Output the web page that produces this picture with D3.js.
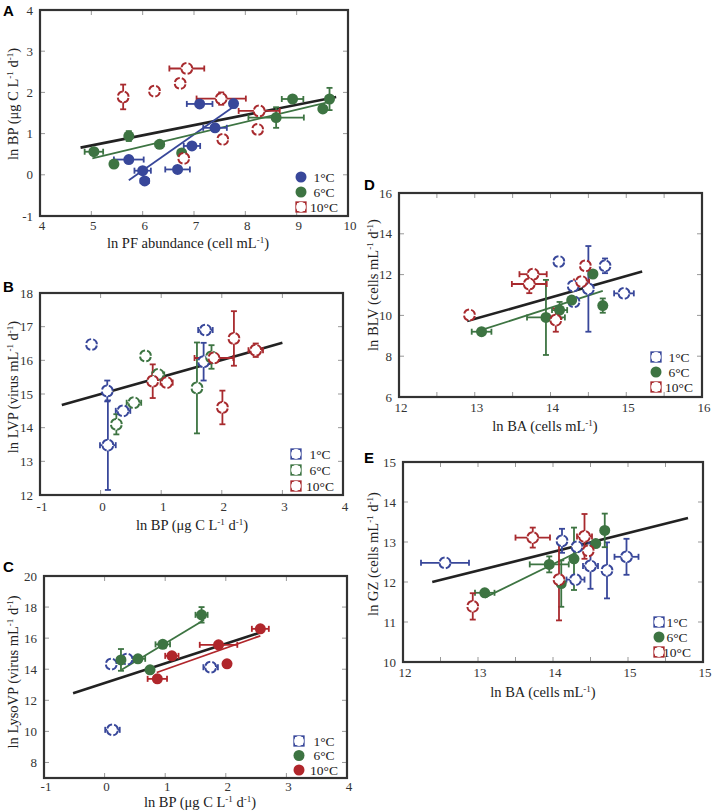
<!DOCTYPE html>
<html><head><meta charset="utf-8">
<script src="https://cdn.jsdelivr.net/npm/d3@7"></script>
<style>body{margin:0;background:#fff}svg{display:block}</style>
</head><body>
<script>
// ---------------- DATA ----------------
// each point: [x, y, xErr, yErr]
const A_1C = [[7.11,1.72,0.25,0],[7.77,1.73,0,0.1],[7.41,1.14,0.23,0],[6.96,0.70,0.16,0],[5.73,0.37,0.29,0.08],[6.00,0.10,0.16,0],[6.04,-0.15,0.08,0],[6.68,0.13,0.24,0]];
const A_6C = [[5.05,0.56,0.18,0.05],[5.44,0.26,0.06,0],[5.73,0.94,0,0.12],[6.33,0.74,0.08,0],[6.76,0.53,0,0],[8.60,1.39,0.54,0.25],[8.92,1.84,0.21,0],[9.51,1.60,0.06,0],[9.64,1.84,0,0.27]];
const A_10C = [[5.62,1.89,0,0.3],[6.23,2.03,0.05,0],[6.86,2.58,0.34,0],[6.73,2.22,0.08,0.05],[7.53,1.85,0.48,0.15],[7.56,0.86,0,0.1],[6.80,0.40,0,0],[8.27,1.55,0.4,0],[8.24,1.10,0,0]];
const A_fitAll = [[4.79,0.66],[9.77,1.89]];
const A_fit1C = [[5.73,-0.13],[7.77,1.65]];
const A_fit6C = [[5.02,0.40],[9.64,1.77]];

const B_1C = [[-0.15,16.47,0,0],[0.11,15.09,0,0.31],[0.12,13.48,0.13,1.33],[0.37,14.50,0.12,0],[1.70,15.96,0,0.56],[1.73,16.90,0.12,0]];
const B_6C = [[0.74,16.13,0,0],[0.26,14.10,0,0.3],[0.55,14.74,0.12,0],[0.95,15.58,0.1,0],[1.59,15.18,0,1.35],[1.83,16.10,0,0.35]];
const B_10C = [[0.86,15.38,0,0.5],[1.09,15.34,0.1,0],[1.87,16.07,0.32,0],[2.20,16.65,0,0.81],[2.01,14.60,0,0.5],[2.56,16.30,0.12,0.2]];
const B_fitAll = [[-0.64,14.67],[3.0,16.52]];

const C_1C = [[0.11,14.33,0,0],[0.37,14.65,0.1,0],[1.75,14.13,0.12,0],[0.13,10.10,0.12,0]];
const C_6C = [[0.27,14.60,0,0.7],[0.55,14.67,0.12,0],[0.75,13.96,0,0],[0.96,15.60,0.12,0],[1.60,17.50,0.1,0.5]];
const C_10C = [[0.87,13.38,0.16,0],[1.11,14.86,0.11,0],[1.88,15.57,0.31,0],[2.02,14.35,0,0],[2.57,16.60,0.14,0.2]];
const C_fitAll = [[-0.52,12.46],[2.57,16.36]];
const C_fit6C = [[0.28,13.96],[1.64,17.17]];
const C_fit10C = [[0.86,13.79],[2.57,16.15]];

const D_1C = [[14.11,12.64,0.06,0],[14.72,12.43,0,0.36],[14.97,11.08,0.13,0],[14.30,11.44,0,0],[14.31,10.67,0,0],[14.50,11.30,0,2.1]];
const D_6C = [[13.09,9.20,0.13,0],[13.94,9.90,0.25,1.84],[14.12,10.26,0.1,0.4],[14.28,10.75,0,0],[14.56,12.03,0,0],[14.69,10.48,0,0.35]];
const D_10C = [[12.93,10.02,0,0],[13.77,12.02,0.18,0],[13.72,11.54,0.23,0.45],[14.07,9.77,0,0.57],[14.46,12.43,0,0],[14.41,11.66,0.1,0]];
const D_fitAll = [[12.9,9.72],[15.21,12.15]];
const D_fit6C = [[13.02,9.2],[14.69,11.2]];

const E_1C = [[12.56,12.48,0.32,0],[14.12,13.03,0,0.3],[14.32,12.88,0,0],[14.30,12.06,0.12,0],[14.50,12.40,0.1,0.57],[14.72,12.29,0,0.7],[14.98,12.63,0.16,0.45]];
const E_6C = [[13.09,11.73,0.13,0],[13.95,12.44,0.26,0.2],[14.11,11.96,0,0.58],[14.28,12.58,0,0.78],[14.57,12.96,0,0],[14.69,13.29,0,0.42]];
const E_10C = [[12.93,11.39,0,0.33],[13.73,13.11,0.23,0.25],[14.08,12.06,0,1.02],[14.42,13.14,0.1,0.56],[14.47,12.78,0,0]];
const E_fitAll = [[12.39,12.0],[15.8,13.6]];
const E_fit6C = [[13.09,11.61],[14.58,12.98]];

const legendLabels = ["1°C","6°C","10°C"];
const A_xTicks = [4,5,6,7,8,9,10], A_yTicks = [-1,0,1,2,3,4];
const B_xTicks = [-1,0,1,2,3,4], B_yTicks = [12,13,14,15,16,17,18];
const C_xTicks = [-1,0,1,2,3,4], C_yTicks = [8,10,12,14,16,18,20];
const D_xTicks = [12,13,14,15,16], D_xMinor = [12.5,13.5,14.5,15.5], D_yTicks = [6,8,10,12,14,16];
const E_xTicks = [12,13,14,15,16], E_xTickLabels = ["12","13","14","15","15"], E_xMinor = [12.5,13.5,14.5,15.5], E_yTicks = [10,11,12,13,14,15];

// ---------------- STYLE ----------------
const BLUE = "#38479a", GREEN = "#3d7442", RED = "#a82a2e";
const SERIF = "'Liberation Serif','Times New Roman',serif";
const SANS = "'Liberation Sans',Arial,sans-serif";

const svg = d3.select("body").append("svg").attr("width",713).attr("height",811);

function richText(sel, parts){
  let lastSup = false;
  parts.forEach(p=>{
    const sup = Array.isArray(p);
    const t = sel.append("tspan").text(sup ? p[0] : p);
    if(sup){ t.attr("font-size","9px").attr("dy", lastSup ? 0 : -5); }
    else if(lastSup){ t.attr("dy", 5); }
    lastSup = sup;
  });
}

function drawMarker(g, x, y, color, type){
  if(type==="filled"){
    g.append("circle").attr("cx",x).attr("cy",y).attr("r",5.5).attr("fill",color);
  } else if(type==="square"){
    g.append("rect").attr("x",x-4.8).attr("y",y-4.8).attr("width",9.6).attr("height",9.6)
      .attr("fill","#fff").attr("stroke",color).attr("stroke-width",1.7);
    g.append("circle").attr("cx",x).attr("cy",y).attr("r",4.9).attr("fill","#fff");
  } else {
    const r = 5.4, c = 2*Math.PI*r, q = c/4, dash = q*0.75;
    g.append("circle").attr("cx",x).attr("cy",y).attr("r",r).attr("fill","#fff")
      .attr("stroke",color).attr("stroke-width",2)
      .attr("stroke-dasharray",`${dash} ${q-dash}`)
      .attr("stroke-dashoffset",-(q/2-dash/2));
  }
}

function panel(cfg){
  const [L,T,R,B] = cfg.box;
  const x = d3.scaleLinear().domain(cfg.xDomain).range([L,R]);
  const y = d3.scaleLinear().domain(cfg.yDomain).range([B,T]);
  const g = svg.append("g");

  // inward ticks on all sides
  const tk = g.append("g").attr("stroke","#999").attr("stroke-width",1);
  const xt = cfg.xTicks.concat(cfg.xMinor||[]).filter(v=>v>cfg.xDomain[0]&&v<cfg.xDomain[1]);
  xt.forEach(v=>{
    tk.append("line").attr("x1",x(v)).attr("x2",x(v)).attr("y1",B).attr("y2",B-5);
    tk.append("line").attr("x1",x(v)).attr("x2",x(v)).attr("y1",T).attr("y2",T+5);
  });
  cfg.yTicks.filter(v=>v>cfg.yDomain[0]&&v<cfg.yDomain[1]).forEach(v=>{
    tk.append("line").attr("y1",y(v)).attr("y2",y(v)).attr("x1",L).attr("x2",L+5);
    tk.append("line").attr("y1",y(v)).attr("y2",y(v)).attr("x1",R).attr("x2",R-5);
  });

  // tick labels
  const xl = cfg.xTickLabels || cfg.xTicks.map(String);
  cfg.xTicks.forEach((v,i)=>{
    g.append("text").attr("x",x(v)+2).attr("y",B+cfg.xLabOff).attr("text-anchor","middle")
      .attr("font-family",SERIF).attr("font-size","13px").attr("fill","#333").text(xl[i]);
  });
  cfg.yTicks.forEach(v=>{
    g.append("text").attr("x",L-7).attr("y",y(v)).attr("dy","0.35em").attr("text-anchor","end")
      .attr("font-family",SERIF).attr("font-size","13px").attr("fill","#333").text(String(v));
  });

  // fit lines
  cfg.fits.forEach(f=>{
    g.append("line").attr("x1",x(f.pts[0][0])).attr("y1",y(f.pts[0][1]))
      .attr("x2",x(f.pts[1][0])).attr("y2",y(f.pts[1][1]))
      .attr("stroke",f.color).attr("stroke-width",f.w);
  });

  // series: error bars then markers
  cfg.series.forEach(s=>{
    const eg = g.append("g").attr("stroke",s.color).attr("stroke-width",1.8);
    s.data.forEach(d=>{
      const cx=x(d[0]), cy=y(d[1]);
      if(d[2]>0){
        const x0=x(d[0]-d[2]), x1=x(d[0]+d[2]);
        eg.append("line").attr("x1",x0).attr("x2",x1).attr("y1",cy).attr("y2",cy);
        eg.append("line").attr("x1",x0).attr("x2",x0).attr("y1",cy-3).attr("y2",cy+3);
        eg.append("line").attr("x1",x1).attr("x2",x1).attr("y1",cy-3).attr("y2",cy+3);
      }
      if(d[3]>0){
        const y0=y(d[1]-d[3]), y1=y(d[1]+d[3]);
        eg.append("line").attr("x1",cx).attr("x2",cx).attr("y1",y0).attr("y2",y1);
        eg.append("line").attr("x1",cx-3).attr("x2",cx+3).attr("y1",y0).attr("y2",y0);
        eg.append("line").attr("x1",cx-3).attr("x2",cx+3).attr("y1",y1).attr("y2",y1);
      }
    });
  });
  cfg.series.forEach(s=>{
    s.data.forEach(d=>drawMarker(g, x(d[0]), y(d[1]), s.color, s.type));
  });

  // frame
  g.append("rect").attr("x",L).attr("y",T).attr("width",R-L).attr("height",B-T)
    .attr("fill","none").attr("stroke","#333").attr("stroke-width",2.2);

  // legend
  const lg = cfg.legend;
  cfg.series.forEach((s,i)=>{
    const ly = lg.y + i*lg.dy;
    drawMarker(g, lg.mx, ly, s.color, s.type==="filled" ? "filled" : "square");
    g.append("text").attr("x",lg.tx).attr("y",ly).attr("dy","0.35em").attr("text-anchor","middle")
      .attr("font-family",SERIF).attr("font-size","13.5px").attr("fill","#222").text(legendLabels[i]);
  });

  // titles
  const xtT = g.append("text").attr("x",cfg.xTitle.x).attr("y",cfg.xTitle.y).attr("text-anchor","middle")
    .attr("font-family",SERIF).attr("font-size","14.5px").attr("fill","#222");
  richText(xtT, cfg.xTitle.parts);
  const ytT = g.append("text").attr("transform",`translate(${cfg.yTitle.x},${cfg.yTitle.y}) rotate(-90)`)
    .attr("text-anchor","middle").attr("font-family",SERIF).attr("font-size","14.5px").attr("fill","#222");
  richText(ytT, cfg.yTitle.parts);

  // panel letter
  g.append("text").attr("x",cfg.letter.x).attr("y",cfg.letter.y).attr("font-family",SANS)
    .attr("font-weight","bold").attr("font-size","15px").attr("fill","#000").text(cfg.letter.t);
}

const bpParts = ["ln BP (μg C L",["-1"]," d",["-1"],")"];
const baParts = ["ln BA (cells mL",["-1"],")"];

panel({
  box:[40,10,348,216], xDomain:[4,10], yDomain:[-1,4], xTicks:A_xTicks, yTicks:A_yTicks, xLabOff:14,
  series:[{data:A_1C,color:BLUE,type:"filled"},{data:A_6C,color:GREEN,type:"filled"},{data:A_10C,color:RED,type:"open"}],
  fits:[{pts:A_fitAll,color:"#222",w:2.6},{pts:A_fit1C,color:BLUE,w:1.8},{pts:A_fit6C,color:GREEN,w:1.8}],
  legend:{mx:301,tx:324,y:177,dy:15},
  xTitle:{x:188,y:248,parts:["ln PF abundance (cell mL",["-1"],")"]},
  yTitle:{x:18,y:104,parts:bpParts},
  letter:{t:"A",x:3,y:16}
});
panel({
  box:[40,293,343,495], xDomain:[-1,4], yDomain:[12,18], xTicks:B_xTicks, yTicks:B_yTicks, xLabOff:16,
  series:[{data:B_1C,color:BLUE,type:"open"},{data:B_6C,color:GREEN,type:"open"},{data:B_10C,color:RED,type:"open"}],
  fits:[{pts:B_fitAll,color:"#222",w:2.6}],
  legend:{mx:296,tx:320,y:454,dy:16},
  xTitle:{x:192,y:530,parts:bpParts},
  yTitle:{x:18,y:387,parts:["ln LVP (virus mL",["-1"]," d",["-1"],")"]},
  letter:{t:"B",x:3,y:292}
});
panel({
  box:[44,576,347,778], xDomain:[-1,4], yDomain:[7,20], xTicks:C_xTicks, yTicks:C_yTicks, xLabOff:13,
  series:[{data:C_1C,color:BLUE,type:"open"},{data:C_6C,color:GREEN,type:"filled"},{data:C_10C,color:"#b0262b",type:"filled"}],
  fits:[{pts:C_fitAll,color:"#222",w:2.6},{pts:C_fit6C,color:GREEN,w:1.8},{pts:C_fit10C,color:"#b0262b",w:1.8}],
  legend:{mx:299,tx:324,y:741,dy:14.5},
  xTitle:{x:200,y:807,parts:bpParts},
  yTitle:{x:18,y:672,parts:["ln LysoVP (virus mL",["-1"]," d",["-1"],")"]},
  letter:{t:"C",x:3,y:572}
});
panel({
  box:[399,193,702,397], xDomain:[12,16], yDomain:[6,16], xTicks:D_xTicks, xMinor:D_xMinor, yTicks:D_yTicks, xLabOff:15,
  series:[{data:D_1C,color:BLUE,type:"open"},{data:D_6C,color:GREEN,type:"filled"},{data:D_10C,color:RED,type:"open"}],
  fits:[{pts:D_fitAll,color:"#222",w:2.6},{pts:D_fit6C,color:GREEN,w:1.8}],
  legend:{mx:656,tx:679,y:357,dy:15},
  xTitle:{x:545,y:431,parts:baParts},
  yTitle:{x:378,y:285,parts:["ln BLV (cells mL",["-1"]," d",["-1"],")"]},
  letter:{t:"D",x:364,y:190}
});
panel({
  box:[403,462,703,662], xDomain:[12,16], yDomain:[10,15], xTicks:E_xTicks, xTickLabels:E_xTickLabels, xMinor:E_xMinor, yTicks:E_yTicks, xLabOff:15,
  series:[{data:E_1C,color:BLUE,type:"open"},{data:E_6C,color:GREEN,type:"filled"},{data:E_10C,color:RED,type:"open"}],
  fits:[{pts:E_fitAll,color:"#222",w:2.6},{pts:E_fit6C,color:GREEN,w:1.8}],
  legend:{mx:659,tx:677,y:622,dy:15},
  xTitle:{x:543,y:697,parts:baParts},
  yTitle:{x:378,y:554,parts:["ln GZ (cells mL",["-1"]," d",["-1"],")"]},
  letter:{t:"E",x:364,y:463}
});
</script>
</body></html>
